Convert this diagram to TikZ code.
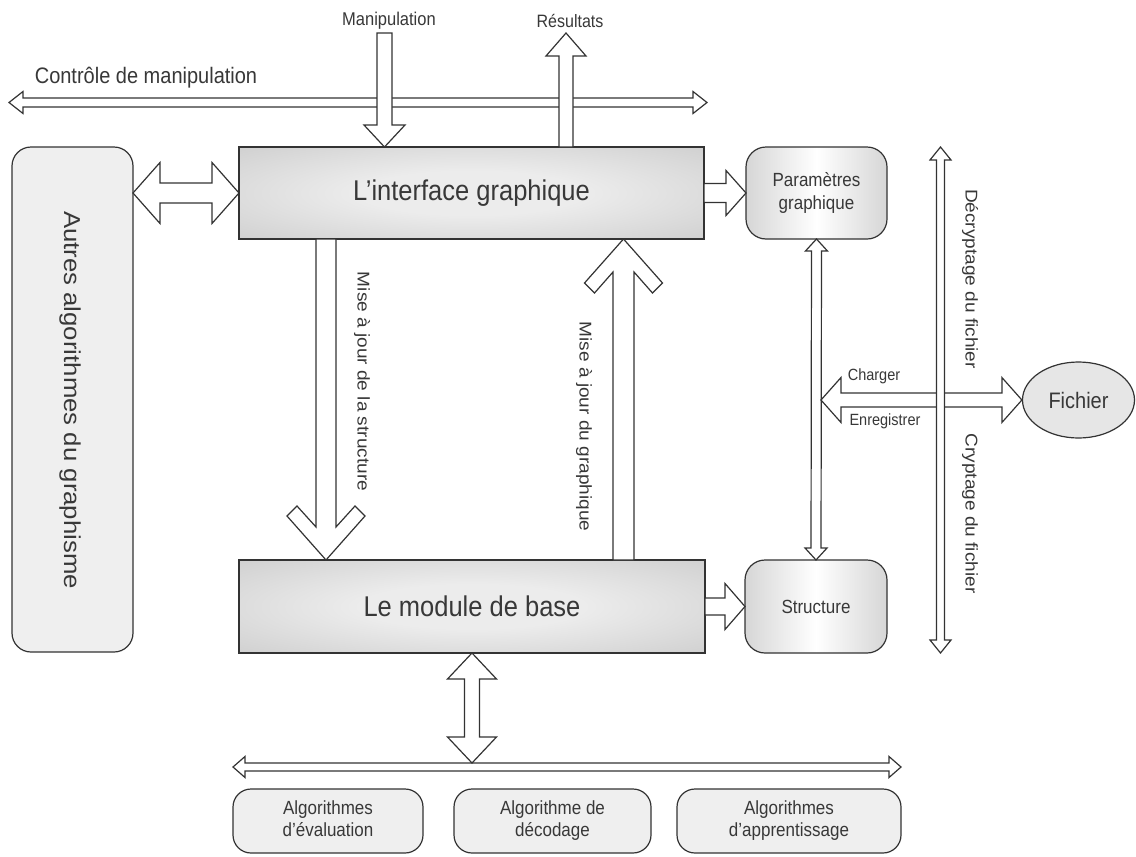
\documentclass[tikz,border=0pt]{standalone}
\usepackage{fontspec}
\setmainfont{Liberation Sans}
\usepackage{graphicx}
\usetikzlibrary{calc,shapes.geometric}

\definecolor{ln}{HTML}{333333}
\definecolor{tx}{HTML}{383838}
\definecolor{shA}{HTML}{ECECEC}
\definecolor{shB}{HTML}{C4C4C4}
\definecolor{lite}{HTML}{EFEFEF}
\definecolor{side}{HTML}{D6D6D6}
\definecolor{ell}{HTML}{E6E6E6}

\pgfdeclareradialshading{boxshade}{\pgfpoint{0bp}{0bp}}{color(0bp)=(shA); color(12bp)=(shA); color(46bp)=(shB); color(50bp)=(shB)}

\newcommand\hs[2]{\fontsize{#1}{#1}\selectfont\scalebox{1}[1.12]{#2}}
\newcommand\vs[2]{\fontsize{#1}{#1}\selectfont\scalebox{1.12}[1]{#2}}
\newcommand\hsm[3]{\fontsize{#1}{#2}\selectfont\scalebox{1}[1.12]{\begin{tabular}{@{}c@{}}#3\end{tabular}}}

% single block arrow: start, tip, shaft half, head half, head length
\newcommand\arrS[5]{%
\draw[blk] let \p1=(#1),\p2=(#2),\n1={atan2(\y2-\y1,\x2-\x1)},\n2={veclen(\x2-\x1,\y2-\y1)} in
($(\p1)+(\n1+90:#3)$) -- ($(\p1)+(\n1:\n2-#5)+(\n1+90:#3)$) -- ($(\p1)+(\n1:\n2-#5)+(\n1+90:#4)$) -- (\p2)
 -- ($(\p1)+(\n1:\n2-#5)+(\n1-90:#4)$) -- ($(\p1)+(\n1:\n2-#5)+(\n1-90:#3)$) -- ($(\p1)+(\n1-90:#3)$) -- cycle;}
% double block arrow
\newcommand\arrD[5]{%
\draw[blk] let \p1=(#1),\p2=(#2),\n1={atan2(\y2-\y1,\x2-\x1)},\n2={veclen(\x2-\x1,\y2-\y1)} in
(\p1) -- ($(\p1)+(\n1:#5)+(\n1+90:#4)$) -- ($(\p1)+(\n1:#5)+(\n1+90:#3)$) -- ($(\p1)+(\n1:\n2-#5)+(\n1+90:#3)$)
 -- ($(\p1)+(\n1:\n2-#5)+(\n1+90:#4)$) -- (\p2) -- ($(\p1)+(\n1:\n2-#5)+(\n1-90:#4)$) -- ($(\p1)+(\n1:\n2-#5)+(\n1-90:#3)$)
 -- ($(\p1)+(\n1:#5)+(\n1-90:#3)$) -- ($(\p1)+(\n1:#5)+(\n1-90:#4)$) -- cycle;}
% chevron-headed block arrow: start, tip, shaft half
\newcommand\arrC[3]{%
\draw[blk] let \p1=(#1),\p2=(#2),\n1={atan2(\y2-\y1,\x2-\x1)},\n2={veclen(\x2-\x1,\y2-\y1)} in
($(\p1)+(\n1+90:#3)$) -- ($(\p1)+(\n1:\n2-33pt)+(\n1+90:#3)$) -- ($(\p1)+(\n1:\n2-54pt)+(\n1+90:29pt)$)
 -- ($(\p1)+(\n1:\n2-44pt)+(\n1+90:39pt)$) -- (\p2) -- ($(\p1)+(\n1:\n2-44pt)+(\n1-90:39pt)$)
 -- ($(\p1)+(\n1:\n2-54pt)+(\n1-90:29pt)$) -- ($(\p1)+(\n1:\n2-33pt)+(\n1-90:#3)$) -- ($(\p1)+(\n1-90:#3)$) -- cycle;}

\begin{document}
\begin{tikzpicture}[x=1pt,y=-1pt,
  blk/.style={draw=ln,fill=white,line width=1.2pt,line join=miter},
  mainbox/.style={draw=ln,line width=1.2pt,shading=boxshade,inner sep=0pt,outer sep=0pt,text=tx},
  sidebox/.style={draw=ln,line width=1.2pt,rounded corners=20pt,left color=side,right color=side,middle color=white,inner sep=0pt,outer sep=0pt,text=tx},
  litebox/.style={draw=ln,line width=1.2pt,rounded corners=19pt,fill=lite,inner sep=0pt,outer sep=0pt,text=tx},
  lbl/.style={text=tx,inner sep=0pt}]
\path[use as bounding box,fill=white] (0,0) rectangle (1136,857);

% boxes
\node[litebox,minimum width=121pt,minimum height=505pt] (autres) at (72.5,399.5) {};
\node[mainbox,minimum width=465pt,minimum height=92pt] (iface) at (471.5,193) {\hs{25.5}{L’interface graphique}};
\node[mainbox,minimum width=466pt,minimum height=93pt] (module) at (472,606.5) {\hs{25.5}{Le module de base}};
\node[sidebox,minimum width=141pt,minimum height=92pt] (param) at (816.5,193) {\hsm{17}{20.5}{Paramètres\\graphique}};
\node[sidebox,minimum width=142pt,minimum height=93pt] (structure) at (816,606.5) {\hs{17}{Structure}};
\node[draw=ln,line width=1.2pt,fill=ell,ellipse,minimum width=112pt,minimum height=76pt,inner sep=0pt,text=tx] (fichier) at (1078.5,400) {\hs{20}{Fichier}};
\node[litebox,rounded corners=18pt,minimum width=190pt,minimum height=64pt] (alg1) at (328,821) {\hsm{17}{19.6}{Algorithmes\\d’évaluation}};
\node[litebox,rounded corners=18pt,minimum width=197pt,minimum height=64pt] (alg2) at (552.5,821) {\hsm{17}{19.6}{Algorithme de\\décodage}};
\node[litebox,rounded corners=18pt,minimum width=224pt,minimum height=64pt] (alg3) at (789,821) {\hsm{17}{19.6}{Algorithmes\\d’apprentissage}};

% coordinates for free ends
\coordinate (h0) at (9,102.5);
\coordinate (h1) at (707,102.5);
\coordinate (m0) at (384.5,33);
\coordinate (m1) at (m0 |- iface.north);
\coordinate (r1) at (566,33);
\coordinate (r0) at (r1 |- iface.north);
\coordinate (a0) at (autres.north east |- iface.west);
\coordinate (d0) at (326,239);
\coordinate (d1) at (d0 |- module.north);
\coordinate (u0) at (623.5,560);
\coordinate (u1) at (u0 |- iface.south);
\coordinate (v0) at (940.5,147);
\coordinate (v1) at (940.5,653);
\coordinate (c0) at ($(param.south |- fichier.west)+(4.5,0)$);
\coordinate (b0) at (233,767);
\coordinate (b1) at (901,767);
\coordinate (bt) at (module.south |- 0,763);

% connectors
\arrD{h0}{h1}{4.5pt}{11pt}{14pt}
\arrS{m0}{m1}{7.5pt}{20.5pt}{22pt}
\arrS{r0}{r1}{7pt}{20pt}{23pt}
\arrD{a0}{iface.west}{10pt}{30.5pt}{27pt}
\arrS{iface.east}{param.west}{9.5pt}{22.5pt}{20pt}
\arrS{module.east}{structure.west}{8.5pt}{23pt}{20pt}
\arrC{d0}{d1}{10pt}
\arrC{u0}{u1}{10.5pt}
\arrD{param.south}{structure.north}{5pt}{11pt}{12pt}
\arrD{c0}{fichier.west}{7pt}{22.5pt}{20pt}
\arrD{v0}{v1}{4pt}{10.5pt}{13pt}
\arrD{b0}{b1}{4pt}{10.5pt}{12pt}
\arrD{module.south}{bt}{7.5pt}{24.5pt}{26pt}

% labels
\node[lbl] (tmanip) at (389,21) {\hs{16.5}{Manipulation}};
\node[lbl] (tres) at (570,21) {\hs{16}{Résultats}};
\node[lbl] (tctrl) at (146,78) {\hs{20}{Contrôle de manipulation}};
\node[lbl,rotate=-90] (tautres) at (70,400) {\vs{23}{Autres algorithmes du graphisme}};
\node[lbl,rotate=-90] (tmstruct) at (362,381.5) {\vs{17}{Mise à jour de la structure}};
\node[lbl,rotate=-90] (tmgraph) at (584,426.5) {\vs{17}{Mise à jour du graphique}};
\node[lbl,rotate=-90] (tdecr) at (970,279) {\vs{17}{Décryptage du fichier}};
\node[lbl,rotate=-90] (tcrypt) at (970,513.5) {\vs{17}{Cryptage du fichier}};
\node[lbl] (tcharger) at (874,376) {\hs{14.5}{Charger}};
\node[lbl] (tenreg) at (885,421) {\hs{14.5}{Enregistrer}};
\end{tikzpicture}
\end{document}
